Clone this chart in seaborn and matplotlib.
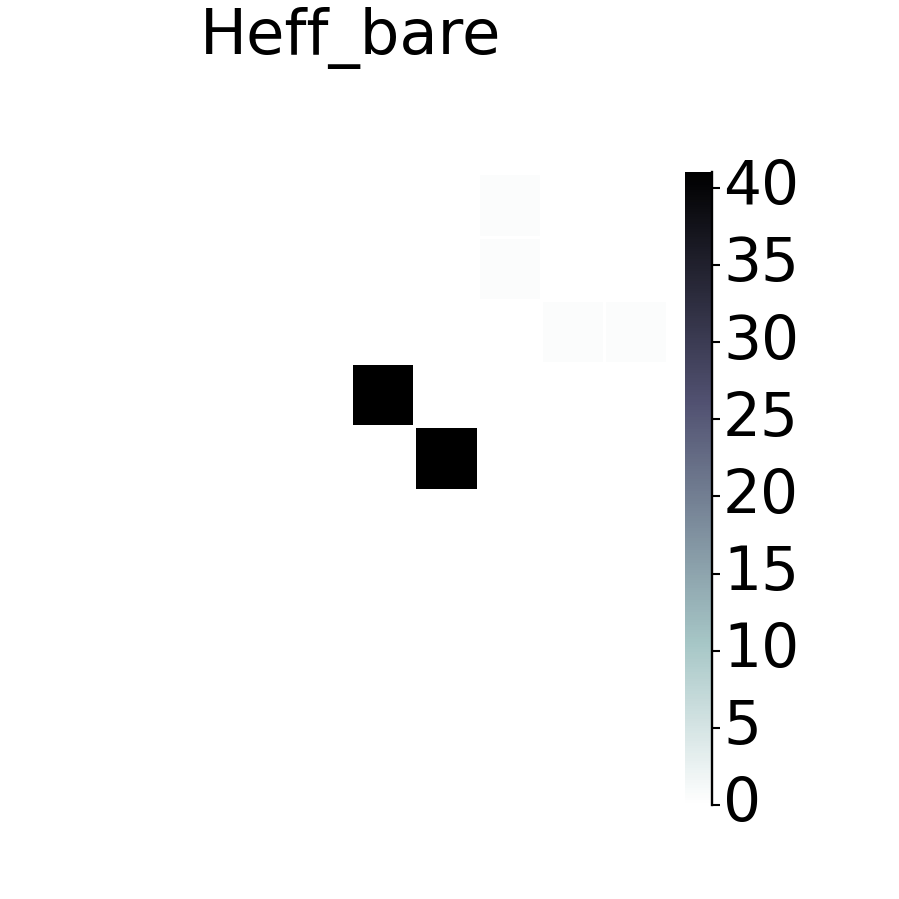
import numpy as np
import matplotlib
matplotlib.use("Agg")
import matplotlib.pyplot as plt
import seaborn as sns

# 10x10 matrix, mostly zero
n = 10
rows = [3, 4, 0, 1, 2, 2]
cols = [5, 6, 7, 7, 8, 9]
vals = [41.0, 41.0, 0.5, 0.5, 0.5, 0.5]

H = np.zeros((n, n))
for r, c, v in zip(rows, cols, vals):
    H[r, c] = v

sns.set_style("white")
plt.rcParams["text.color"] = "black"
plt.rcParams["ytick.color"] = "black"

fig = plt.figure(figsize=(8.99, 8.99), dpi=100)
W = 899.0
ax = fig.add_axes([34.8 / W, (W - 806) / W, 632.6 / W, 632.6 / W])
cax = fig.add_axes([685 / W, (W - 805) / W, 27 / W, 632.6 / W])

sns.heatmap(H, ax=ax, cbar_ax=cax, cmap="bone_r", linewidths=2, linecolor="white",
            xticklabels=False, yticklabels=False, square=True)

ax.set_title("Heff_bare", fontsize=45, pad=86, color="black")

cax.spines["right"].set_visible(True)
cax.spines["right"].set_linewidth(1.7)
cax.spines["right"].set_color("black")
cax.set_yticks([0, 5, 10, 15, 20, 25, 30, 35, 40])
cax.tick_params(axis="y", labelsize=43, length=6, width=1.5, pad=2,
                color="black", labelcolor="black", right=True)
for lab in cax.get_yticklabels():
    lab.set_verticalalignment("center")

fig.savefig("out.png", dpi=100, facecolor="white")
